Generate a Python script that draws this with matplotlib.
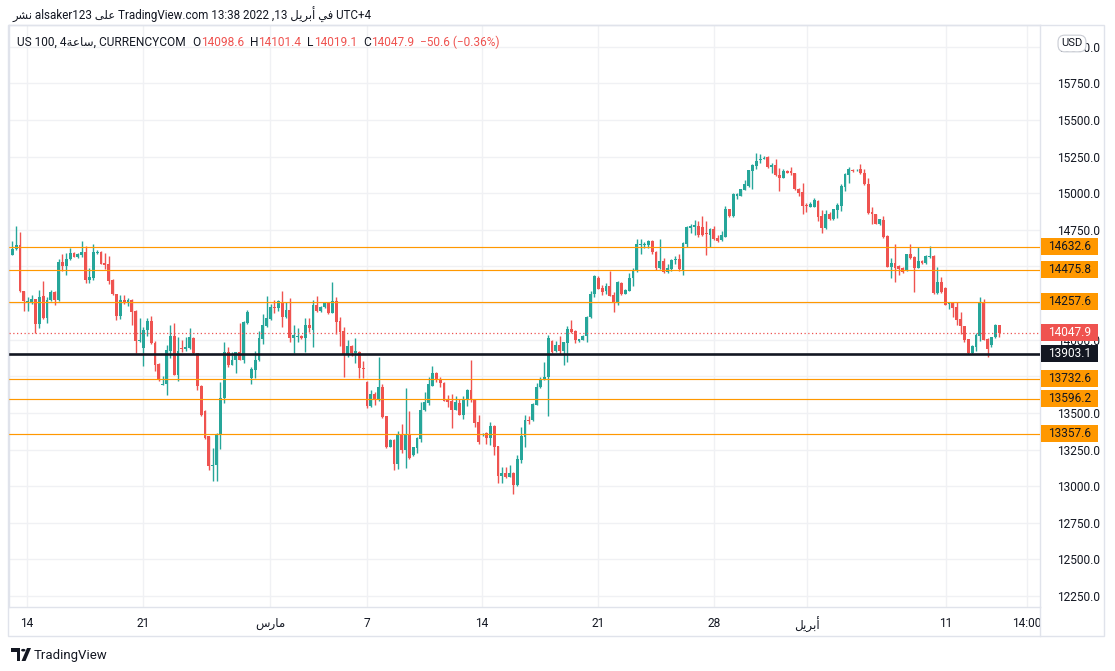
import numpy as np
import matplotlib
matplotlib.use("Agg")
import matplotlib.pyplot as plt
import matplotlib.transforms as mtransforms
from matplotlib.patches import Rectangle, Polygon, Circle

plt.rcParams['font.family'] = ['Roboto', 'DejaVu Sans']

## DATA (US 100, 4h candles)
opens = [14581, 14617, 14647, 14333, 14247, 14254, 14277, 14104, 14299, 14145,
         14272, 14327, 14272, 14531, 14506, 14549, 14590, 14567, 14576, 14599,
         14410, 14424, 14594, 14599, 14522, 14517, 14406, 14311, 14159, 14272,
         14247, 14272, 14193, 13988, 13941, 14065, 14129, 13979, 13834, 13691,
         13695, 13922, 14027, 13761, 13938, 13934, 13941, 14011, 13907, 13686,
         13516, 13339, 13137, 13142, 13346, 13600, 13913, 13829, 13861, 13913,
         13863, 14113, 13736, 13795, 13861, 14002, 14090, 14140, 14224, 14215,
         14259, 14152, 14204, 14009, 14016, 14027, 14009, 14102, 14068, 14238,
         14193, 14220, 14254, 14182, 14266, 14130, 14061, 13903, 13959, 13909,
         13918, 13809, 13710, 13546, 13626, 13585, 13680, 13476, 13267, 13312,
         13149, 13346, 13244, 13358, 13210, 13260, 13319, 13517, 13567, 13687,
         13771, 13732, 13707, 13585, 13578, 13523, 13567, 13489, 13589, 13653,
         13594, 13435, 13346, 13362, 13328, 13410, 13274, 13069, 13088, 13063,
         13088, 13006, 13176, 13335, 13453, 13449, 13557, 13676, 13725, 13744,
         13993, 13920, 13966, 13920, 13975, 14072, 14061, 13993, 13998, 14023,
         14152, 14311, 14424, 14356, 14329, 14368, 14304, 14259, 14390, 14315,
         14334, 14418, 14470, 14647, 14645, 14647, 14674, 14599, 14488, 14538,
         14463, 14481, 14545, 14549, 14476, 14656, 14765, 14769, 14776, 14769,
         14731, 14713, 14758, 14697, 14681, 14704, 14890, 14844, 14980, 14980,
         15021, 15049, 15151, 15185, 15226, 15235, 15246, 15180, 15192, 15121,
         15105, 15151, 15151, 15139, 15030, 15008, 14919, 14908, 14908, 14946,
         14844, 14760, 14860, 14822, 14885, 14912, 15044, 15121, 15158, 15155,
         15162, 15137, 15064, 14872, 14856, 14788, 14817, 14708, 14499, 14520,
         14504, 14492, 14470, 14583, 14565, 14492, 14538, 14520, 14567, 14572,
         14318, 14395, 14356, 14243, 14247, 14220, 14141, 14091, 14004, 13909,
         13948, 14027, 14259, 14004, 13963, 14016, 14098.6]
highs = [14674, 14776, 14735, 14335, 14288, 14306, 14280, 14338, 14401, 14288,
         14338, 14333, 14549, 14585, 14590, 14628, 14599, 14592, 14674, 14640,
         14492, 14651, 14610, 14606, 14590, 14572, 14413, 14315, 14306, 14302,
         14283, 14277, 14202, 14145, 14088, 14145, 14161, 13988, 13838, 13754,
         13966, 14102, 14111, 14016, 14000, 14016, 14077, 14020, 13910, 13690,
         13520, 13342, 13260, 13366, 13709, 13986, 13947, 13918, 13918, 14111,
         14129, 14204, 13811, 13920, 14061, 14174, 14299, 14245, 14272, 14272,
         14334, 14259, 14282, 14102, 14077, 14032, 14150, 14150, 14270, 14300,
         14229, 14259, 14259, 14395, 14293, 14152, 14089, 14000, 13966, 14011,
         13922, 13853, 13721, 13653, 13646, 13884, 13694, 13478, 13319, 13324,
         13374, 13426, 13669, 13510, 13270, 13335, 13573, 13646, 13748, 13823,
         13778, 13744, 13710, 13623, 13626, 13614, 13596, 13612, 13664, 13864,
         13596, 13489, 13360, 13369, 13437, 13419, 13276, 13131, 13131, 13147,
         13097, 13210, 13403, 13487, 13476, 13567, 13703, 13748, 13846, 14035,
         14000, 13993, 14027, 13986, 14095, 14136, 14066, 14004, 14030, 14160,
         14329, 14442, 14436, 14374, 14384, 14470, 14322, 14402, 14395, 14349,
         14456, 14492, 14690, 14690, 14667, 14683, 14681, 14606, 14685, 14560,
         14515, 14551, 14572, 14583, 14667, 14776, 14790, 14815, 14810, 14844,
         14810, 14765, 14776, 14713, 14742, 14912, 14892, 15003, 14999, 15030,
         15089, 15160, 15196, 15273, 15264, 15251, 15251, 15203, 15230, 15169,
         15162, 15158, 15180, 15141, 15037, 15067, 14935, 14940, 14965, 14951,
         14883, 14883, 14871, 14894, 14930, 15060, 15135, 15178, 15164, 15162,
         15201, 15162, 15105, 14905, 14860, 14826, 14844, 14713, 14560, 14651,
         14511, 14495, 14588, 14656, 14572, 14633, 14545, 14576, 14640, 14576,
         14497, 14429, 14360, 14254, 14254, 14254, 14190, 14095, 14006, 13966,
         14043, 14288, 14277, 14009, 14020, 14105, 14101.4]
lows = [14575, 14610, 14322, 14193, 14197, 14243, 14043, 14077, 14140, 14111,
        14265, 14236, 14265, 14470, 14440, 14542, 14562, 14556, 14565, 14390,
        14390, 14406, 14583, 14515, 14481, 14383, 14306, 14136, 14138, 14243,
        14231, 14100, 13911, 13985, 13818, 14027, 13970, 13784, 13720, 13688,
        13621, 13875, 13757, 13716, 13918, 13925, 13934, 13902, 13659, 13480,
        13325, 13112, 13037, 13037, 13251, 13566, 13811, 13826, 13770, 13858,
        13841, 14110, 13698, 13736, 13855, 13970, 14088, 14136, 14181, 14193,
        14089, 14148, 13982, 13909, 13982, 14002, 13918, 14050, 13952, 14186,
        14186, 14218, 14175, 14180, 14039, 13959, 13748, 13880, 13887, 13839,
        13737, 13737, 13532, 13540, 13555, 13580, 13464, 13262, 13265, 13113,
        13117, 13226, 13124, 13185, 13205, 13226, 13301, 13514, 13557, 13684,
        13710, 13676, 13578, 13539, 13399, 13520, 13485, 13460, 13546, 13573,
        13403, 13285, 13342, 13290, 13278, 13210, 13024, 13022, 13058, 13060,
        12945, 13003, 13160, 13267, 13426, 13446, 13555, 13671, 13722, 13480,
        13909, 13918, 13902, 13827, 13845, 14043, 13975, 13986, 13996, 13982,
        14150, 14293, 14345, 14306, 14315, 14297, 14190, 14236, 14306, 14311,
        14329, 14368, 14465, 14588, 14629, 14629, 14588, 14474, 14483, 14452,
        14458, 14472, 14515, 14472, 14442, 14633, 14726, 14713, 14701, 14710,
        14579, 14633, 14679, 14667, 14674, 14700, 14840, 14838, 14962, 14978,
        15019, 15042, 15030, 15167, 15205, 15230, 15173, 15135, 15118, 15015,
        15103, 15135, 15121, 15019, 14980, 14860, 14871, 14906, 14906, 14810,
        14731, 14753, 14820, 14820, 14833, 14878, 15015, 15071, 15146, 15153,
        15130, 15058, 14856, 14788, 14788, 14783, 14697, 14497, 14424, 14397,
        14440, 14452, 14468, 14554, 14322, 14488, 14515, 14518, 14560, 14313,
        14315, 14318, 14234, 14209, 14156, 14100, 14038, 13982, 13905, 13902,
        13920, 13988, 13996, 13884, 13948, 14014, 14019.1]
closes = [14622, 14647, 14329, 14261, 14261, 14277, 14104, 14292, 14145, 14272,
          14327, 14272, 14531, 14506, 14553, 14590, 14567, 14588, 14599, 14410,
          14429, 14599, 14599, 14519, 14513, 14401, 14311, 14159, 14272, 14247,
          14272, 14186, 13988, 13999, 14065, 14129, 13979, 13829, 13730, 13700,
          13929, 14027, 13761, 13925, 13934, 13947, 14016, 13907, 13682, 13489,
          13332, 13137, 13146, 13346, 13605, 13918, 13829, 13863, 13913, 13863,
          14118, 14190, 13800, 13863, 14009, 14102, 14145, 14224, 14215, 14263,
          14152, 14204, 14009, 14032, 14027, 14009, 14102, 14077, 14238, 14198,
          14225, 14254, 14184, 14266, 14123, 14055, 13903, 13959, 13909, 13925,
          13805, 13798, 13546, 13626, 13585, 13680, 13471, 13267, 13312, 13149,
          13346, 13244, 13358, 13192, 13267, 13328, 13523, 13573, 13694, 13775,
          13732, 13705, 13580, 13573, 13523, 13573, 13489, 13594, 13653, 13589,
          13430, 13299, 13358, 13328, 13410, 13267, 13069, 13088, 13063, 13088,
          13006, 13183, 13342, 13449, 13444, 13562, 13680, 13732, 13748, 14010,
          13914, 13966, 13925, 13982, 14072, 14050, 13998, 14002, 14027, 14156,
          14311, 14436, 14349, 14327, 14368, 14299, 14259, 14395, 14315, 14340,
          14422, 14474, 14651, 14656, 14656, 14674, 14595, 14488, 14538, 14465,
          14486, 14545, 14549, 14481, 14660, 14769, 14776, 14781, 14713, 14713,
          14722, 14758, 14685, 14674, 14713, 14890, 14844, 14992, 14992, 15026,
          15064, 15155, 15192, 15223, 15230, 15242, 15180, 15192, 15121, 15105,
          15151, 15139, 15135, 15026, 15003, 14912, 14912, 14924, 14953, 14837,
          14760, 14860, 14822, 14890, 14917, 15049, 15128, 15167, 15153, 15160,
          15135, 15060, 14867, 14856, 14792, 14822, 14704, 14499, 14520, 14486,
          14481, 14463, 14583, 14556, 14492, 14538, 14520, 14572, 14572, 14318,
          14395, 14322, 14238, 14247, 14213, 14136, 14091, 14000, 13909, 13954,
          14032, 14259, 14000, 13936, 14016, 14102, 14047.9]

# horizontal levels drawn on the chart
orange_levels = [14632.6, 14475.8, 14257.6, 13732.6, 13596.2, 13357.6]
black_level = 13903.1
last_price = 14047.9

# time axis: candle index of each label
ar_mar = "\uFEB1\uFEAD\uFE8E\uFEE3"          # مارس (visual order)
ar_apr = "\uFEDE\uFEF3\uFEAE\uFE91\uFE83"    # أبريل (visual order)
tick_pos = [3.8, 33.9, 66.9, 92.0, 121.8, 151.9, 182.0, 206.1, 242.2, 263.2]
tick_lbl = ["14", "21", ar_mar, "7", "14", "21", "28", ar_apr, "11", "14:00"]
price_ticks = np.arange(12250, 16001, 250)
# scale values hidden behind the level labels on the right
hidden_ticks = [14500, 14250, 13750]

GREEN = "#26a69a"
RED = "#ef5350"
ORANGE = "#ff9800"
DARK = "#131722"
W, H = 1115, 671


def fx(x):
    return x / W


def fy(y):
    return 1 - y / H


fig = plt.figure(figsize=(W / 100, H / 100), dpi=100, facecolor="white")
ax = fig.add_axes([fx(9), fy(607), (1040 - 9) / W, (607 - 25) / H])

o = np.array(opens)
hi = np.array(highs)
lo = np.array(lows)
c = np.array(closes)
idx = np.arange(len(o))
cols = np.where(c >= o, GREEN, RED)

ax.vlines(idx, lo, hi, colors=cols, lw=1, zorder=3)
body = np.maximum(np.abs(c - o), 6)
ax.bar(idx, body, bottom=np.minimum(o, c), width=0.74, color=cols, lw=0, zorder=4)

for lv in orange_levels:
    ax.axhline(lv, color=ORANGE, lw=0.85, zorder=5)
ax.axhline(black_level, color=DARK, lw=1.9, zorder=5)
ax.axhline(last_price, color=RED, lw=0.9, ls=(0, (1, 2)), zorder=5)

ax.set_xlim(-0.86, 266.6)
ax.set_ylim(12175, 16148)
ax.set_xticks(tick_pos)
ax.set_xticklabels(tick_lbl)
ax.set_yticks(price_ticks)
ax.set_yticklabels(["" if v in hidden_ticks else f"{v:.1f}" for v in price_ticks])
ax.yaxis.tick_right()
ax.tick_params(axis="y", length=0, pad=12, labelsize=8.6, labelcolor=DARK)
ax.tick_params(axis="x", length=0, pad=7, labelsize=8.6, labelcolor=DARK)
ax.grid(True, color="#f0f1f4", lw=1, zorder=0)
ax.set_axisbelow(True)
for s in ax.spines.values():
    s.set_color("#e0e3eb")
    s.set_linewidth(1)

# price labels on the right scale
tr = mtransforms.blended_transform_factory(ax.transAxes, ax.transData)
bx0 = 1 / 1031
bw = 57 / 1031
bh = 8.5 * (16148 - 12175) / 582


def price_box(p, fc, tc):
    ax.add_patch(Rectangle((1 + bx0, p - bh), bw, 2 * bh, transform=tr, fc=fc, ec="none",
                           clip_on=False, zorder=8))
    ax.text(1 + bx0 + bw / 2, p, f"{p:.1f}", transform=tr, ha="center", va="center",
            fontsize=8.6, color=tc, clip_on=False, zorder=9)


for lv in orange_levels:
    price_box(lv, ORANGE, DARK)
price_box(black_level, DARK, "white")
price_box(last_price, RED, "white")

fig.text(fx(1072), fy(43.5), "USD", ha="center", va="center", fontsize=8, color=DARK,
         bbox=dict(boxstyle="round,pad=0.3,rounding_size=0.6", fc="white", ec="#c9ccd4", lw=0.8))

# outer pane frame and scale separator
fig.add_artist(Rectangle((fx(8), fy(636)), (1104 - 8) / W, (636 - 25) / H, fill=False,
                         ec="#e0e3eb", lw=1, transform=fig.transFigure))
fig.add_artist(plt.Line2D([fx(1040), fx(1040)], [fy(607), fy(636)], color="#e0e3eb", lw=1))

# header lines
ar_nashr = "\uFEAE\uFEB8\uFEE7"
ar_ala = "\uFEF0\uFEE0\uFECB"
ar_fi = "\uFEF2\uFED3"
ar_saa = "\uFE94\uFECB\uFE8E\uFEB3"
fig.text(fx(12), fy(15), ar_nashr + " alsaker123 " + ar_ala + " TradingView.com 13:38 2022 ,13 "
         + ar_apr + " " + ar_fi + " UTC+4", fontsize=8.4, color=DARK, va="center")

renderer = fig.canvas.get_renderer()
pieces = [("US 100, 4" + ar_saa + ", CURRENCYCOM", DARK, 7),
          ("O", DARK, 0), ("14098.6", RED, 6),
          ("H", DARK, 0), ("14101.4", RED, 6),
          ("L", DARK, 0), ("14019.1", RED, 6),
          ("C", DARK, 0), ("14047.9", RED, 6),
          ("\u221250.6 (\u22120.36%)", RED, 0)]
xp = 17
for txt, col, gap in pieces:
    t = fig.text(fx(xp), fy(42), txt, fontsize=8.6, color=col, va="center")
    xp += t.get_window_extent(renderer).width + gap

# footer logo
fig.add_artist(Polygon([(fx(11), fy(648)), (fx(20), fy(648)), (fx(20), fy(661)), (fx(16.5), fy(661)),
                        (fx(16.5), fy(652)), (fx(11), fy(652))], closed=True, fc=DARK, ec="none"))
fig.add_artist(Circle((fx(23.3), fy(650.2)), 2.2 / W, fc=DARK, ec="none"))
fig.add_artist(Polygon([(fx(27), fy(648)), (fx(31), fy(648)), (fx(25.5), fy(661)), (fx(21.5), fy(661))],
                       closed=True, fc=DARK, ec="none"))
fig.text(fx(34), fy(655), "TradingView", fontsize=9.5, color=DARK, va="center")

fig.savefig("out.png", dpi=100, facecolor="white")
